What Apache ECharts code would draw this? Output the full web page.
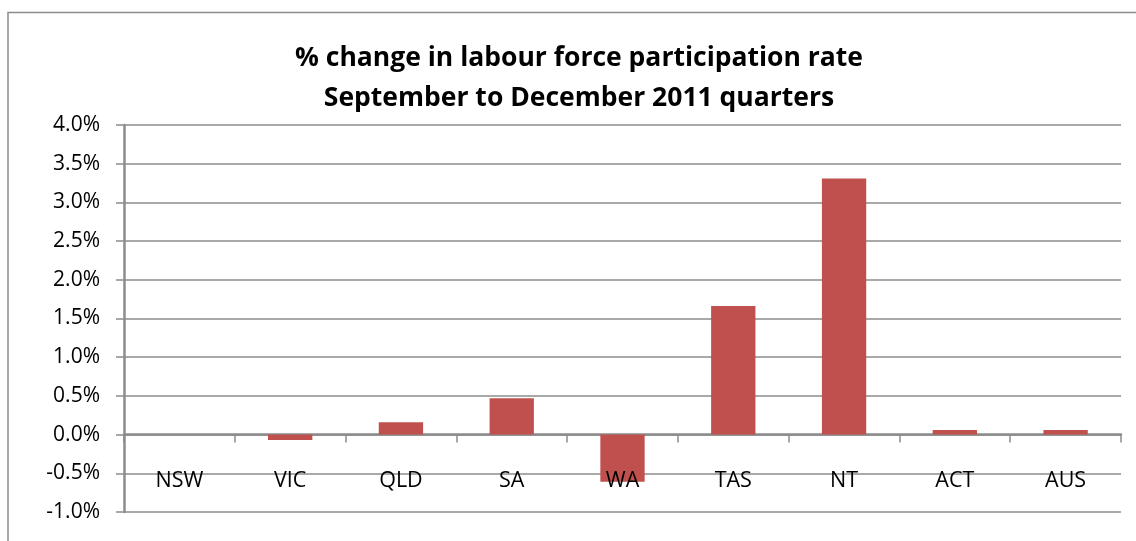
<!DOCTYPE html>
<html><head><meta charset="utf-8">
<script src="https://cdn.jsdelivr.net/npm/echarts@6/dist/echarts.min.js"></script>
<style>html,body{margin:0;padding:0;background:#fff}#c{width:1136px;height:541px}</style>
</head><body><div id="c"></div>
<script>
const categories = ['NSW','VIC','QLD','SA','WA','TAS','NT','ACT','AUS'];
const values = [0.00, -0.07, 0.16, 0.47, -0.61, 1.66, 3.31, 0.06, 0.06];
const titleLines = ['% change in labour force participation rate','September to December 2011 quarters'];
const yMin = -1.0, yMax = 4.0, yStep = 0.5;

const chart = echarts.init(document.getElementById('c'));
const font = 'Open Sans';
chart.setOption({
  animation:false,
  backgroundColor:'#fff',
  title:{
    text: titleLines.join('\n'),
    left: 574, top: 33, textAlign:'center',
    textStyle:{fontFamily:font, fontWeight:'bold', fontSize:26.5, lineHeight:40, color:'#000'}
  },
  graphic:[{type:'polyline', shape:{points:[[8,541],[8,12.5],[1136,12.5]]}, style:{stroke:'#8c8c8c', lineWidth:1.5, fill:null}}],
  grid:{left:124, right:15, top:125, bottom:29, containLabel:false, outerBoundsMode:'none'},
  xAxis:[{
    type:'category', data:categories,
    axisLine:{onZero:true, lineStyle:{color:'#8c8c8c', width:2.5}},
    axisTick:{show:true, inside:false, length:8, alignWithLabel:false, lineStyle:{color:'#8c8c8c', width:1.5}},
    axisLabel:{show:false}
  },{
    type:'category', data:categories, position:'bottom', z:10,
    axisLine:{show:false, onZero:false}, axisTick:{show:false}, splitLine:{show:false},
    axisLabel:{inside:true, margin:20, fontFamily:font, fontSize:21.5, color:'#000'}
  }],
  yAxis:{
    type:'value', min:yMin, max:yMax, interval:yStep,
    axisLine:{show:true, lineStyle:{color:'#8c8c8c', width:2.5}},
    axisTick:{show:true, length:8, lineStyle:{color:'#8c8c8c', width:1.5}},
    splitLine:{lineStyle:{color:'#8c8c8c', width:1.5}},
    axisLabel:{margin:24, fontFamily:font, fontSize:21, color:'#000', formatter:v=>v.toFixed(1)+'%'}
  },
  series:[{type:'bar', data:values, barCategoryGap:'60%', itemStyle:{color:'#C0504D'}}]
});
</script></body></html>
